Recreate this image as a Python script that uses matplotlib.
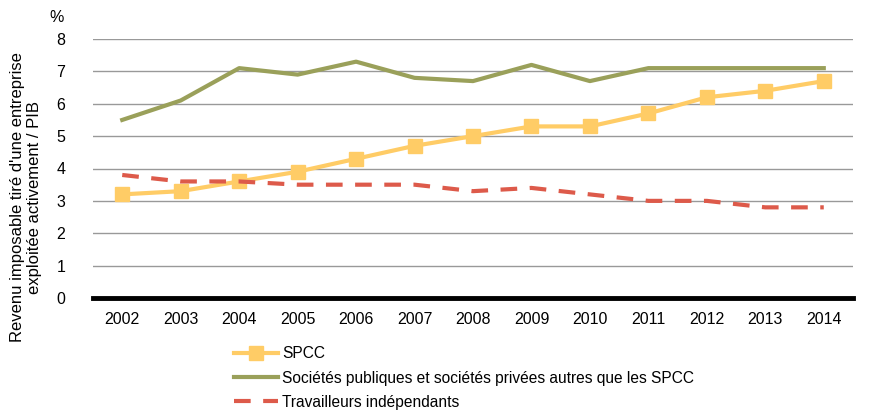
import matplotlib.pyplot as plt

plt.rcParams['font.family'] = ['Liberation Sans', 'DejaVu Sans']

years = ['2002', '2003', '2004', '2005', '2006', '2007', '2008',
         '2009', '2010', '2011', '2012', '2013', '2014']
spcc = [3.2, 3.3, 3.6, 3.9, 4.3, 4.7, 5.0, 5.3, 5.3, 5.7, 6.2, 6.4, 6.7]
societes = [5.5, 6.1, 7.1, 6.9, 7.3, 6.8, 6.7, 7.2, 6.7, 7.1, 7.1, 7.1, 7.1]
travailleurs = [3.8, 3.6, 3.6, 3.5, 3.5, 3.5, 3.3, 3.4, 3.2, 3.0, 3.0, 2.8, 2.8]

fig = plt.figure(figsize=(8.71, 4.18), dpi=100)
ax = fig.add_axes([93 / 871, 1 - 298 / 418, (853 - 93) / 871, (298 - 39) / 418])

x = range(len(years))
ax.plot(x, spcc, color='#FFCC66', lw=3, marker='s', markersize=10,
        label='SPCC', zorder=3)
ax.plot(x, societes, color='#9AA05A', lw=3, label='Sociétés publiques et sociétés privées autres que les SPCC',
        zorder=3)
ax.plot(x, travailleurs, color='#DD5A4A', lw=3, dashes=(4, 3),
        label='Travailleurs indépendants', zorder=3)

ax.set_xlim(-0.5, len(years) - 0.5)
ax.set_ylim(0, 8)
ax.set_yticks(range(0, 9))
ax.set_xticks(list(x))
ax.set_xticklabels(years)
ax.tick_params(axis='both', length=0, labelsize=11.5)
ax.tick_params(axis='x', pad=10)
ax.tick_params(axis='y', pad=20)
ax.grid(axis='y', color='#999999', lw=1)
ax.set_axisbelow(True)
for s in ['top', 'right', 'left']:
    ax.spines[s].set_visible(False)
ax.spines['bottom'].set_linewidth(3.5)
ax.spines['bottom'].set_color('black')

ax.text(57 / 871, 1 - 17 / 418, '%', transform=fig.transFigure, fontsize=11.5,
        ha='center', va='center')
fig.text(26 / 871, 1 - 197 / 418, "Revenu imposable tiré d'une entreprise\nexploitée activement / PIB",
         rotation=90, ha='center', va='center', fontsize=12, linespacing=1.1)

fig.legend(loc='upper left', bbox_to_anchor=(228 / 871, 1 - 340 / 418), frameon=False,
           fontsize=11.2, handlelength=2.8, labelspacing=0.6, handletextpad=0.3,
           borderaxespad=0)

fig.savefig('out.png', dpi=100)
